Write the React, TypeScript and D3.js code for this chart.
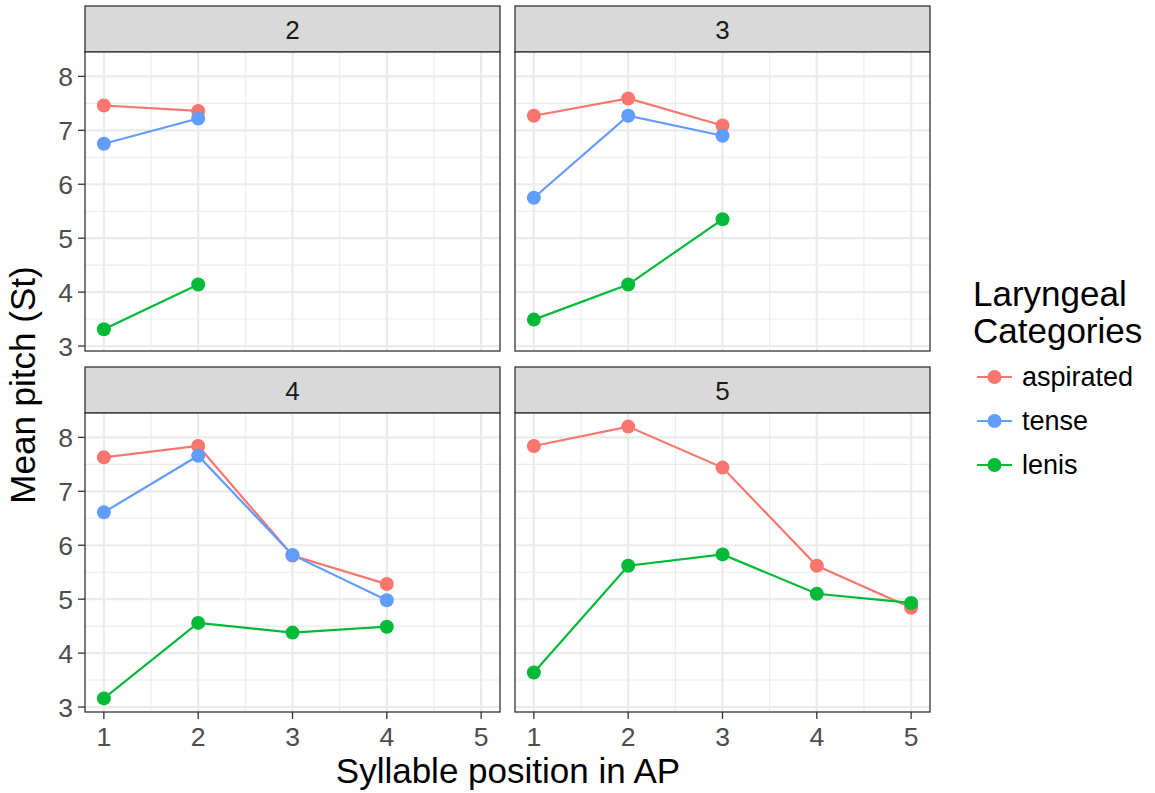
import React from 'react'
import * as d3 from 'd3'

// syllable positions per AP length facet
const facets = [2, 3, 4, 5]
const categories = ['aspirated', 'tense', 'lenis']
const colors = ['#F8766D', '#619CFF', '#00BA38']

const aspirated2 = [7.46, 7.36]
const tense2 = [6.75, 7.22]
const lenis2 = [3.31, 4.14]

const aspirated3 = [7.27, 7.59, 7.09]
const tense3 = [5.75, 7.27, 6.9]
const lenis3 = [3.49, 4.14, 5.35]

const aspirated4 = [7.63, 7.84, 5.81, 5.28]
const tense4 = [6.61, 7.66, 5.82, 4.98]
const lenis4 = [3.16, 4.56, 4.38, 4.49]

const aspirated5 = [7.84, 8.2, 7.44, 5.62, 4.84]
const lenis5 = [3.64, 5.62, 5.83, 5.1, 4.93]

const xTicks = [1, 2, 3, 4, 5]
const yTicks = [3, 4, 5, 6, 7, 8]

const facetData: Record<number, Record<string, number[]>> = {
  2: { aspirated: aspirated2, tense: tense2, lenis: lenis2 },
  3: { aspirated: aspirated3, tense: tense3, lenis: lenis3 },
  4: { aspirated: aspirated4, tense: tense4, lenis: lenis4 },
  5: { aspirated: aspirated5, lenis: lenis5 },
}

const W = 1155
const H = 793
const font = 'Liberation Sans, Arial, sans-serif'

const panelW = 415
const panelH = 299
const stripH = 46
const cols = [85, 515]
const rows = [6, 367]

const allVals = [...aspirated2, ...tense2, ...lenis2, ...aspirated3, ...tense3, ...lenis3,
  ...aspirated4, ...tense4, ...lenis4, ...aspirated5, ...lenis5]
const yMin = d3.min(allVals) as number
const yMax = d3.max(allVals) as number
const yPad = (yMax - yMin) * 0.05

const x = d3.scaleLinear().domain([0.8, 5.2]).range([0, panelW])
const y = d3.scaleLinear().domain([yMin - yPad, yMax + yPad]).range([panelH, 0])

const minorX = [1.5, 2.5, 3.5, 4.5]
const minorY = [3.5, 4.5, 5.5, 6.5, 7.5]

function Panel({ facet, px, py }: { facet: number, px: number, py: number }) {
  const top = py + stripH
  const line = d3.line<number>().x((d, i) => x(i + 1)).y(d => y(d))
  const isLeft = px === cols[0]
  const isBottom = py === rows[1]
  return (
    <g>
      <rect x={px} y={py} width={panelW} height={stripH} fill="#D9D9D9" stroke="#333333" strokeWidth={1.3} />
      <text x={px + panelW / 2} y={py + 32.5} textAnchor="middle" fontSize={26} fill="#1A1A1A" fontFamily={font}>{facet}</text>
      <g transform={`translate(${px},${top})`}>
        <rect width={panelW} height={panelH} fill="white" />
        {minorX.map(v => <line key={'mx' + v} x1={x(v)} x2={x(v)} y1={0} y2={panelH} stroke="#EBEBEB" strokeWidth={1.1} />)}
        {minorY.map(v => <line key={'my' + v} y1={y(v)} y2={y(v)} x1={0} x2={panelW} stroke="#EBEBEB" strokeWidth={1.1} />)}
        {xTicks.map(v => <line key={'gx' + v} x1={x(v)} x2={x(v)} y1={0} y2={panelH} stroke="#EBEBEB" strokeWidth={2.2} />)}
        {yTicks.map(v => <line key={'gy' + v} y1={y(v)} y2={y(v)} x1={0} x2={panelW} stroke="#EBEBEB" strokeWidth={2.2} />)}
        {categories.map((c, ci) => {
          const vals = facetData[facet][c]
          if (!vals) return null
          return (
            <g key={c}>
              <path d={line(vals) || ''} fill="none" stroke={colors[ci]} strokeWidth={2.2} />
              {vals.map((v, i) => <circle key={i} cx={x(i + 1)} cy={y(v)} r={7} fill={colors[ci]} />)}
            </g>
          )
        })}
        <rect width={panelW} height={panelH} fill="none" stroke="#333333" strokeWidth={1.3} />
        {isLeft && yTicks.map(v => (
          <g key={'yt' + v}>
            <line x1={-7} x2={0} y1={y(v)} y2={y(v)} stroke="#333333" strokeWidth={1.3} />
            <text x={-12} y={y(v) + 9.5} textAnchor="end" fontSize={26.5} fill="#4D4D4D" fontFamily={font}>{v}</text>
          </g>
        ))}
        {isBottom && xTicks.map(v => (
          <g key={'xt' + v}>
            <line x1={x(v)} x2={x(v)} y1={panelH} y2={panelH + 7} stroke="#333333" strokeWidth={1.3} />
            <text x={x(v)} y={panelH + 34} textAnchor="middle" fontSize={26.5} fill="#4D4D4D" fontFamily={font}>{v}</text>
          </g>
        ))}
      </g>
    </g>
  )
}

export default function App() {
  return (
    <svg width={W} height={H} style={{ display: 'block', position: 'absolute', left: 0, top: 0 }}>
      <rect width={W} height={H} fill="white" />
      {facets.map((f, i) => (
        <Panel key={f} facet={f} px={cols[i % 2]} py={rows[Math.floor(i / 2)]} />
      ))}
      <text x={508} y={783} textAnchor="middle" fontSize={35} fill="black" fontFamily={font}>Syllable position in AP</text>
      <text transform="translate(35,385) rotate(-90)" textAnchor="middle" fontSize={35} fill="black" fontFamily={font}>Mean pitch (St)</text>
      <text x={973} y={306} fontSize={35} fill="black" fontFamily={font}>Laryngeal</text>
      <text x={973} y={343} fontSize={35} fill="black" fontFamily={font}>Categories</text>
      {categories.map((c, i) => {
        const cy = 377 + i * 44
        return (
          <g key={c}>
            <line x1={977} x2={1012} y1={cy} y2={cy} stroke={colors[i]} strokeWidth={2.2} />
            <circle cx={994.5} cy={cy} r={7} fill={colors[i]} />
            <text x={1022} y={cy + 9} fontSize={27} fill="black" fontFamily={font}>{c}</text>
          </g>
        )
      })}
    </svg>
  )
}
